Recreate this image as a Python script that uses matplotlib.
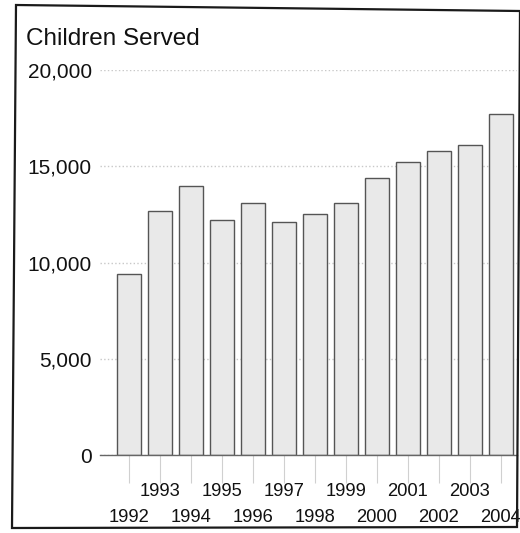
import matplotlib

matplotlib.use("Agg")

import matplotlib.pyplot as plt
from matplotlib.patches import Polygon
from matplotlib.ticker import FuncFormatter
import matplotlib.transforms as mtransforms

plt.rcParams["font.family"] = ["Liberation Sans", "DejaVu Sans"]

# Children served per year
years = ["1992", "1993", "1994", "1995", "1996", "1997", "1998",
         "1999", "2000", "2001", "2002", "2003", "2004"]
children = [9400, 12700, 14000, 12200, 13100, 12100, 12500,
            13100, 14400, 15200, 15800, 16100, 17700]
y_ticks = [0, 5000, 10000, 15000, 20000]

fig = plt.figure(figsize=(5.2, 5.33), dpi=100)
ax = fig.add_axes([0.1923, 0.1463, 0.802, 0.7223])

x = list(range(len(years)))
ax.bar(x, children, width=0.76, color="#e9e9e9", edgecolor="#555555",
       linewidth=1.0, zorder=2)

ax.set_xlim(-0.935, 12.52)
ax.set_ylim(0, 20000)
ax.set_yticks(y_ticks)
ax.yaxis.set_major_formatter(FuncFormatter(lambda v, _: f"{int(v):,}"))
ax.tick_params(axis="y", length=0, pad=6, labelsize=15, labelcolor="#111111")
ax.grid(axis="y", color="#c8c8c8", linestyle=":", linewidth=1.0, zorder=0)

# faint drop lines under each year, labels staggered in two rows
ax.set_xticks(x)
ax.set_xticklabels([])
ax.tick_params(axis="x", length=20, width=0.8, color="#d0d0d0", direction="out")
trans = mtransforms.blended_transform_factory(ax.transData, ax.transAxes)
for i, yr in enumerate(years):
    row_y = -0.096 if i % 2 else -0.161
    ax.text(i, row_y, yr, transform=trans, ha="center", va="center",
            fontsize=13.2, color="#111111")

for side in ("left", "right", "top"):
    ax.spines[side].set_visible(False)
ax.spines["bottom"].set_color("#666666")
ax.spines["bottom"].set_linewidth(1.0)

fig.text(26 / 520, 1 - 39 / 533, "Children Served", ha="left", va="center",
         fontsize=17.5, color="#111111")

# page border around the chart
w, h = 520, 533
corners = [(16, 5), (520, 11), (517, 527), (12, 528)]
frame = Polygon([(cx / w, 1 - cy / h) for cx, cy in corners], closed=True,
                fill=False, edgecolor="#1a1a1a", linewidth=1.6,
                transform=fig.transFigure)
fig.patches.append(frame)

fig.savefig("out.png", dpi=100)
